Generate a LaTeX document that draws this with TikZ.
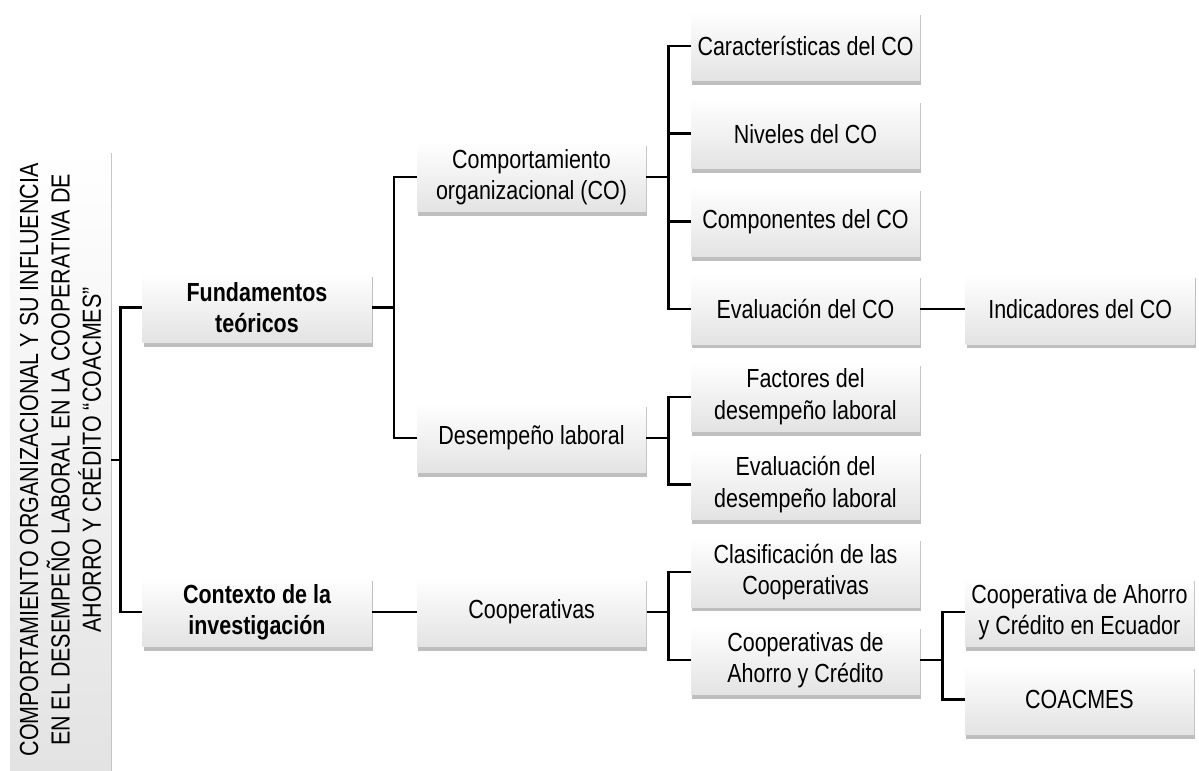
\documentclass[tikz,border=0pt]{standalone}
\usepackage{fontspec}
\setmainfont{Liberation Sans}[FakeStretch=0.82]
\usetikzlibrary{positioning, shadows}

\tikzset{
  box/.style={minimum width=4.58cm, minimum height=1.4cm, inner sep=2pt, align=center,
    top color=white, bottom color=gray!22,
    drop shadow={shadow xshift=0.7pt, shadow yshift=-2.4pt, opacity=.5}},
  link/.style={line width=1.4pt}
}

\begin{document}
\begin{tikzpicture}[node distance=0.34cm and 0.9cm, every node/.style={font=\fontsize{14.9pt}{17.8pt}\selectfont}]

\useasboundingbox (0,0) rectangle (23.98,15.42);

% Title (vertical)
\node (title) [box, rotate=90, minimum width=12.44cm, minimum height=2.02cm] at (1.21,6.22)
  {COMPORTAMIENTO ORGANIZACIONAL Y SU INFLUENCIA\\EN EL DESEMPEÑO LABORAL EN LA COOPERATIVA DE\\AHORRO Y CRÉDITO “COACMES”};

% First level
\node (fund) [box, font=\fontsize{14.9pt}{17.8pt}\selectfont\bfseries] at (5.14,9.27) {Fundamentos\\teóricos};
\node (cont) [box, font=\fontsize{14.9pt}{17.8pt}\selectfont\bfseries] at (5.14,3.18) {Contexto de la\\investigación};

% Second level
\node (comp) [box] at (10.63,11.88) {Comportamiento\\organizacional (CO)};
\node (desem) [box] at (10.63,6.66) {Desempeño laboral};
\node (coop) [box, right=of cont] {Cooperativas};

% Third level (CO)
\node (carac) [box] at (16.11,14.5) {Características del CO};
\node (niv) [box, below=of carac] {Niveles del CO};
\node (compo) [box, below=of niv] {Componentes del CO};
\node (evco) [box, below=of compo] {Evaluación del CO};

% Third level (desempeno, cooperativas)
\node (fact) [box, below=of evco] {Factores del\\desempeño laboral};
\node (evdes) [box, below=of fact] {Evaluación del\\desempeño laboral};
\node (clas) [box, below=of evdes] {Clasificación de las\\Cooperativas};
\node (cayc) [box, below=of clas] {Cooperativas de\\Ahorro y Crédito};

% Fourth level
\node (indic) [box, right=of evco] {Indicadores del CO};
\node (cace) [box] at (21.59,3.18) {Cooperativa de Ahorro\\y Crédito en Ecuador};
\node (coacmes) [box, below=of cace] {COACMES};

% Connectors
\draw[link] (title.south) -- ++(0.18,0) |- (fund.west);
\draw[link] (title.south) -- ++(0.18,0) |- (cont.west);

\draw[link] (fund.east) -- ++(0.44,0) |- (comp.west);
\draw[link] (fund.east) -- ++(0.44,0) |- (desem.west);
\draw[link] (cont) -- (coop);

\draw[link] (comp.east) -- ++(0.44,0) |- (carac.west);
\draw[link] (comp.east) -- ++(0.44,0) |- (niv.west);
\draw[link] (comp.east) -- ++(0.44,0) |- (compo.west);
\draw[link] (comp.east) -- ++(0.44,0) |- (evco.west);

\draw[link] (desem.east) -- ++(0.44,0) |- (fact.west);
\draw[link] (desem.east) -- ++(0.44,0) |- (evdes.west);

\draw[link] (coop.east) -- ++(0.44,0) |- (clas.west);
\draw[link] (coop.east) -- ++(0.44,0) |- (cayc.west);

\draw[link] (evco) -- (indic);

\draw[link] (cayc.east) -- ++(0.44,0) |- (cace.west);
\draw[link] (cayc.east) -- ++(0.44,0) |- (coacmes.west);

\end{tikzpicture}
\end{document}
